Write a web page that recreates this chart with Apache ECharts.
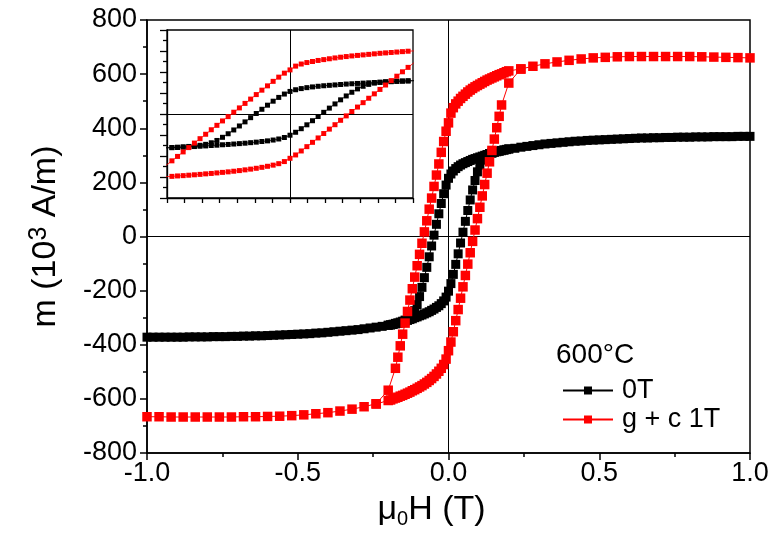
<!DOCTYPE html>
<html>
<head>
<meta charset="utf-8">
<script src="https://cdn.jsdelivr.net/npm/echarts@6/dist/echarts.min.js"></script>
<style>
html,body{margin:0;padding:0;background:#fff;}
#chart{width:780px;height:546px;}
</style>
</head>
<body>
<div id="chart"></div>
<script>
// ---------- DATA ----------
// Red: g + c 1T, descending branch (field from +1 T down to -1 T)
const fieldRedDown = [1.0,0.96,0.92,0.88,0.84,0.8,0.76,0.72,0.68,0.64,0.6,0.56,0.52,0.48,0.44,0.4,0.36,0.32,0.28,0.24,0.2,
  0.192,0.184,0.176,0.168,0.16,0.152,0.144,0.136,0.128,0.12,0.112,0.104,0.096,0.088,0.08,0.072,0.064,0.056,0.048,0.04,0.032,0.024,0.016,0.008,0,
  -0.008,-0.016,-0.024,-0.032,-0.04,-0.048,-0.056,-0.064,-0.072,-0.08,-0.088,-0.096,-0.104,-0.112,-0.12,-0.128,-0.136,-0.144,-0.152,-0.16,-0.168,-0.176,
  -0.2,-0.24,-0.28,-0.32,-0.36,-0.4,-0.44,-0.48,-0.52,-0.56,-0.6,-0.64,-0.68,-0.72,-0.76,-0.8,-0.84,-0.88,-0.92,-0.96,-1.0];
const magRedDown = [660,661,662,663,664,665,665,665,665,665,665,664,662,660,656,651,645,638,629,619,612,
  609,605,601,598,594,590,586,582,578,573,568,563,558,553,547,541,534,526,518,510,500,490,476,456,420,
  389,351,311,268,227,185,142,101,58,17,-25,-66,-108,-150,-193,-235,-277,-320,-361,-404,-446,-487,
  -568,-618,-629,-638,-645,-651,-655,-659,-662,-664,-665,-666,-666,-667,-667,-667,-667,-667,-667,-666,-666];

// Red: ascending branch where it differs from the descending one
const fieldRedUp = [-0.24,-0.2,-0.192,-0.184,-0.176,-0.168,-0.16,-0.152,-0.144,-0.136,-0.128,-0.12,-0.112,-0.104,-0.096,-0.088,-0.08,-0.072,-0.064,-0.056,-0.048,-0.04,-0.032,-0.024,-0.016,-0.008,0,
  0.008,0.016,0.024,0.032,0.04,0.048,0.056,0.064,0.072,0.08,0.088,0.096,0.104,0.112,0.12,0.128,0.136,0.144,0.152,0.16,0.168,0.176,0.2,0.24];
const magRedUp = [-619,-606,-604,-600,-597,-594,-590,-587,-583,-579,-575,-570,-566,-561,-556,-551,-545,-539,-532,-525,-517,-508,-498,-487,-473,-453,-422,
  -390,-352,-311,-270,-228,-186,-144,-102,-60,-18,24,66,108,150,192,234,276,318,360,402,444,486,567,619];

// Black: 0T, descending branch
const fieldBlackDown = [1.0,0.98,0.96,0.94,0.92,0.9,0.88,0.86,0.84,0.82,0.8,0.78,0.76,0.74,0.72,0.7,0.68,0.66,0.64,0.62,0.6,0.58,0.56,0.54,0.52,0.5,0.48,0.46,0.44,0.42,0.4,0.38,0.36,0.34,0.32,0.3,0.28,0.26,0.24,0.22,
  0.2,0.192,0.184,0.176,0.168,0.16,0.152,0.144,0.136,0.128,0.12,0.112,0.104,0.096,0.088,0.08,0.072,0.064,0.056,0.048,0.04,0.032,0.024,0.016,0.008,0,
  -0.008,-0.016,-0.024,-0.032,-0.04,-0.048,-0.056,-0.064,-0.072,-0.08,-0.088,-0.096,-0.104,-0.112,-0.12,-0.128,-0.136,-0.144,-0.152,-0.16,-0.168,-0.176,-0.184,-0.192,-0.2,
  -0.22,-0.24,-0.26,-0.28,-0.3,-0.32,-0.34,-0.36,-0.38,-0.4,-0.42,-0.44,-0.46,-0.48,-0.5,-0.52,-0.54,-0.56,-0.58,-0.6,-0.62,-0.64,-0.66,-0.68,-0.7,-0.72,-0.74,-0.76,-0.78,-0.8,-0.82,-0.84,-0.86,-0.88,-0.9,-0.92,-0.94,-0.96,-0.98,-1.0];
const magBlackDown = [370,370,370,369,369,369,369,368,368,368,367,367,367,366,366,365,365,364,364,363,362,361,360,359,358,357,356,355,353,352,350,348,346,344,342,339,336,333,330,326,
  323,321,319,317,315,313,311,308,306,303,300,297,294,291,288,285,281,277,273,269,264,258,251,242,231,215,
  190,158,122,84,45,5,-35,-75,-114,-152,-188,-222,-252,-274,-289,-298,-304,-309,-313,-316,-319,-321,-324,-326,-328,
  -332,-335,-338,-341,-344,-346,-348,-350,-352,-354,-356,-357,-359,-360,-361,-362,-363,-364,-365,-366,-367,-367,-368,-368,-369,-369,-370,-370,-370,-371,-371,-371,-371,-372,-372,-372,-372,-372,-372,-372];

// Black: ascending branch where it differs from the descending one
const fieldBlackUp = [-0.2,-0.192,-0.184,-0.176,-0.168,-0.16,-0.152,-0.144,-0.136,-0.128,-0.12,-0.112,-0.104,-0.096,-0.088,-0.08,-0.072,-0.064,-0.056,-0.048,-0.04,-0.032,-0.024,-0.016,-0.008,0,
  0.008,0.016,0.024,0.032,0.04,0.048,0.056,0.064,0.072,0.08,0.088,0.096,0.104,0.112,0.12,0.128,0.136,0.144,0.152,0.16,0.168,0.176,0.184,0.192,0.2];
const magBlackUp = [-328,-327,-325,-323,-321,-319,-316,-313,-310,-307,-304,-300,-297,-293,-290,-286,-282,-278,-273,-268,-262,-256,-248,-238,-224,-202,
  -174,-140,-103,-64,-24,16,56,96,135,172,207,239,264,282,294,301,306,309,312,314,316,318,320,322,324];

const seriesNames = ['0T', 'g + c 1T'];
const legendTitle = '600°C';
const xTitle = ['μ', '0', 'H (T)'];
const yTitle = ['m (10', '3', ' A/m)'];

// ---------- CHART ----------
const FONT = '"Liberation Sans", Arial, Helvetica, sans-serif';
const zip = (f, m) => f.map((h, i) => [h, m[i]]);
const RED = '#ff0000', BLACK = '#000000';

function branch(name, color, field, mag, gi, size, lw, z) {
  return {
    name: name, type: 'line', xAxisIndex: gi, yAxisIndex: gi,
    data: zip(field, mag), symbol: 'rect', symbolSize: size, showSymbol: true,
    itemStyle: {color: color}, lineStyle: {color: color, width: lw},
    clip: true, silent: true, z: z
  };
}
function zeroLines(gi, z) {
  return {
    type: 'line', xAxisIndex: gi, yAxisIndex: gi, data: [], silent: true, z: z,
    markLine: {silent: true, z: z, symbol: ['none', 'none'], label: {show: false},
      lineStyle: {color: '#000', width: 1, type: 'solid'}, emphasis: {disabled: true},
      data: [{xAxis: 0}, {yAxis: 0}]}
  };
}

const chart = echarts.init(document.getElementById('chart'), null, {renderer: 'canvas'});
const tickStyle = {color: '#000', width: 1.5};
const insetLine = {color: '#000', width: 1.3};
chart.setOption({
  animation: false,
  backgroundColor: '#fff',
  textStyle: {fontFamily: FONT},
  title: {text: legendTitle, left: 556, top: 341, padding: 0,
    textStyle: {fontFamily: FONT, fontSize: 28, fontWeight: 'normal', color: '#000'}},
  legend: {data: seriesNames, orient: 'vertical', left: 562, top: 377, padding: 0,
    itemWidth: 50, itemHeight: 10, itemGap: 2,
    textStyle: {fontFamily: FONT, fontSize: 27, color: '#000', padding: [0, 0, 0, 4]}},
  grid: [
    {left: 147, top: 20, right: 30, bottom: 93, show: true, borderColor: '#000', borderWidth: 1.5, backgroundColor: 'transparent'},
    {left: 167, top: 30, width: 246, height: 168, show: true, borderColor: '#000', borderWidth: 1.3, backgroundColor: '#fff', z: 3}
  ],
  xAxis: [
    {type: 'value', gridIndex: 0, min: -1, max: 1, interval: 0.5,
      axisLine: {show: true, onZero: false, lineStyle: tickStyle},
      axisTick: {show: true, length: 7, lineStyle: tickStyle},
      minorTick: {show: true, splitNumber: 2, length: 4, lineStyle: tickStyle},
      splitLine: {show: false},
      axisLabel: {fontFamily: FONT, fontSize: 27, color: '#000', margin: 7, formatter: v => v.toFixed(1)},
      name: '{a|' + xTitle[0] + '}{s|' + xTitle[1] + '}{a|' + xTitle[2] + '}',
      nameLocation: 'middle', nameGap: 38,
      nameTextStyle: {padding: [0, 34, 0, 0], rich: {
        a: {fontFamily: FONT, fontSize: 34, color: '#000', lineHeight: 38},
        s: {fontFamily: FONT, fontSize: 20, color: '#000', lineHeight: 22, verticalAlign: 'bottom'}}}
    },
    {type: 'value', gridIndex: 1, min: -0.175, max: 0.175, interval: 0.025,
      axisLine: {show: true, onZero: false, lineStyle: insetLine},
      axisTick: {show: true, length: 5, lineStyle: insetLine},
      splitLine: {show: false}, axisLabel: {show: false}, z: 3}
  ],
  yAxis: [
    {type: 'value', gridIndex: 0, min: -800, max: 800, interval: 200,
      axisLine: {show: true, onZero: false, lineStyle: tickStyle},
      axisTick: {show: true, length: 7, lineStyle: tickStyle},
      minorTick: {show: true, splitNumber: 2, length: 4, lineStyle: tickStyle},
      splitLine: {show: false},
      axisLabel: {fontFamily: FONT, fontSize: 27, color: '#000', margin: 10},
      name: '{a|' + yTitle[0] + '}{s|' + yTitle[1] + '}{a|' + yTitle[2] + '}',
      nameLocation: 'middle', nameGap: 82, nameRotate: 90,
      nameTextStyle: {rich: {
        a: {fontFamily: FONT, fontSize: 34, color: '#000', lineHeight: 38},
        s: {fontFamily: FONT, fontSize: 25, color: '#000', lineHeight: 22, verticalAlign: 'top'}}}
    },
    {type: 'value', gridIndex: 1, min: -800, max: 800, interval: 200,
      axisLine: {show: true, onZero: false, lineStyle: insetLine},
      axisTick: {show: true, length: 7, lineStyle: insetLine},
      minorTick: {show: true, splitNumber: 2, length: 4, lineStyle: insetLine},
      splitLine: {show: false}, axisLabel: {show: false}, z: 3}
  ],
  series: [
    zeroLines(0, 1),
    branch(seriesNames[0], BLACK, fieldBlackDown, magBlackDown, 0, 9, 1, 2),
    branch(seriesNames[0], BLACK, fieldBlackUp, magBlackUp, 0, 9, 1, 2),
    branch(seriesNames[1], RED, fieldRedDown, magRedDown, 0, 9.5, 1, 2),
    branch(seriesNames[1], RED, fieldRedUp, magRedUp, 0, 9.5, 1, 2),
    zeroLines(1, 6),
    branch('inset 0T', BLACK, fieldBlackDown, magBlackDown, 1, 5, 0.8, 7),
    branch('inset 0T up', BLACK, fieldBlackUp, magBlackUp, 1, 5, 0.8, 7),
    branch('inset g+c', RED, fieldRedDown, magRedDown, 1, 5, 0.8, 7),
    branch('inset g+c up', RED, fieldRedUp, magRedUp, 1, 5, 0.8, 7)
  ]
});
</script>
</body>
</html>
